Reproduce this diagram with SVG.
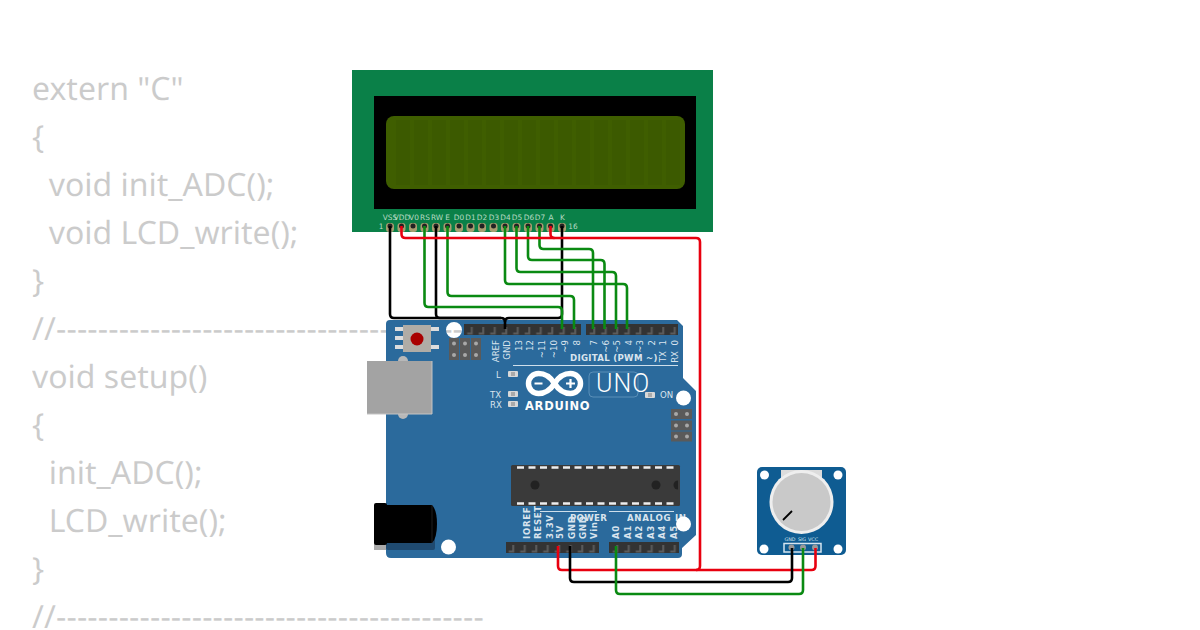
<svg xmlns="http://www.w3.org/2000/svg" width="1200" height="630" viewBox="0 0 1200 630">
<style>
.code{font-family:"Noto Sans","Open Sans",sans-serif;font-size:32px;fill:#000;text-rendering:geometricPrecision}
.w{fill:none;stroke-width:2.6;stroke-linejoin:round}
.r{stroke:#e8000f}.k{stroke:#000}.g{stroke:#0a8a12}
.l{font-family:"DejaVu Sans",sans-serif;font-size:8.6px;fill:#dbe6ef;opacity:.99}
.b{font-weight:bold;letter-spacing:.7px}
.d{font-weight:bold;letter-spacing:.3px}
.lcd{font-family:"DejaVu Sans",sans-serif;font-size:7.4px;fill:#b9dcc6;text-anchor:middle;opacity:.99}
.hdr{fill:#333}
.pad{fill:#a89e70}.dot{fill:#222}
.ls{fill:#d8d8d8}
.ic{fill:#5a5a5a}.icd{fill:#a8a8a8}
.line{stroke:#cfdfeb;stroke-width:1;fill:none}
.hole{fill:#fff}
.chipd{stroke:#eee;stroke-width:2.4;stroke-dasharray:7 4.5;fill:none}
</style>
<defs>
<pattern id="p1" patternUnits="userSpaceOnUse" width="11.5" height="11" patternTransform="translate(568.25 324)"><path d="M2.5 8.5h3.5V3h2v7.5H2.500z" fill="#5c5c5c"/></pattern>
<pattern id="p2" href="#p1" patternTransform="translate(587.25 324)"/>
<pattern id="p3" href="#p1" patternTransform="translate(552.25 542)"/>
<pattern id="p4" href="#p1" patternTransform="translate(610.25 542)"/>
</defs>
<rect width="1200" height="630" fill="#fff"/>
<g id="code" opacity=".2">
<text class="code" x="32" y="100">extern "C"</text>
<text class="code" x="32" y="148">{</text>
<text class="code" x="32" y="196" xml:space="preserve">  void init_ADC();</text>
<text class="code" x="32" y="244" xml:space="preserve">  void LCD_write();</text>
<text class="code" x="32" y="292">}</text>
<text class="code" x="32" y="340" letter-spacing=".13">//-----------------------------------------</text>
<text class="code" x="32" y="388">void setup()</text>
<text class="code" x="32" y="436">{</text>
<text class="code" x="32" y="484" xml:space="preserve">  init_ADC();</text>
<text class="code" x="32" y="532" xml:space="preserve">  LCD_write();</text>
<text class="code" x="32" y="580">}</text>
<text class="code" x="32" y="628" letter-spacing=".13">//-----------------------------------------</text>
</g>
<g id="lcd">
<rect x="352" y="70" width="361" height="162" fill="#0a8048"/>
<rect x="374" y="96" width="322" height="113" fill="#000"/>
<rect x="386" y="116" width="299" height="73" rx="8" fill="#3f5e00"/>
<g fill="#3c5a00"><rect x="396" y="120" width="14" height="65"/><rect x="414" y="120" width="14" height="65"/><rect x="432" y="120" width="14" height="65"/><rect x="450" y="120" width="14" height="65"/><rect x="468" y="120" width="14" height="65"/><rect x="486" y="120" width="14" height="65"/><rect x="504" y="120" width="14" height="65"/><rect x="522" y="120" width="14" height="65"/><rect x="540" y="120" width="14" height="65"/><rect x="558" y="120" width="14" height="65"/><rect x="576" y="120" width="14" height="65"/><rect x="594" y="120" width="14" height="65"/><rect x="612" y="120" width="14" height="65"/><rect x="630" y="120" width="14" height="65"/><rect x="648" y="120" width="14" height="65"/><rect x="666" y="120" width="14" height="65"/></g>
<g class="pad"><rect x="386" y="223" width="8" height="9" rx="3"/><rect x="397.500" y="223" width="8" height="9" rx="3"/><rect x="409" y="223" width="8" height="9" rx="3"/><rect x="420.500" y="223" width="8" height="9" rx="3"/><rect x="432" y="223" width="8" height="9" rx="3"/><rect x="443.500" y="223" width="8" height="9" rx="3"/><rect x="455" y="223" width="8" height="9" rx="3"/><rect x="466.500" y="223" width="8" height="9" rx="3"/><rect x="478" y="223" width="8" height="9" rx="3"/><rect x="489.500" y="223" width="8" height="9" rx="3"/><rect x="501" y="223" width="8" height="9" rx="3"/><rect x="512.500" y="223" width="8" height="9" rx="3"/><rect x="524" y="223" width="8" height="9" rx="3"/><rect x="535.500" y="223" width="8" height="9" rx="3"/><rect x="546.500" y="223" width="8" height="9" rx="3"/><rect x="558" y="223" width="8" height="9" rx="3"/></g>
<g class="dot"><circle cx="390" cy="226" r="2.500"/><circle cx="401.500" cy="226" r="2.500"/><circle cx="413" cy="226" r="2.500"/><circle cx="424.500" cy="226" r="2.500"/><circle cx="436" cy="226" r="2.500"/><circle cx="447.500" cy="226" r="2.500"/><circle cx="459" cy="226" r="2.500"/><circle cx="470.500" cy="226" r="2.500"/><circle cx="482" cy="226" r="2.500"/><circle cx="493.500" cy="226" r="2.500"/><circle cx="505" cy="226" r="2.500"/><circle cx="516.500" cy="226" r="2.500"/><circle cx="528" cy="226" r="2.500"/><circle cx="539.500" cy="226" r="2.500"/><circle cx="550.500" cy="226" r="2.500"/><circle cx="562" cy="226" r="2.500"/></g>
<g class="lcd"><text x="390" y="220">VSS</text><text x="402" y="220">VDD</text><text x="414" y="220">V0</text><text x="425" y="220">RS</text><text x="437" y="220">RW</text><text x="447.500" y="220">E</text><text x="459" y="220">D0</text><text x="470.500" y="220">D1</text><text x="482" y="220">D2</text><text x="494" y="220">D3</text><text x="505.500" y="220">D4</text><text x="517" y="220">D5</text><text x="529" y="220">D6</text><text x="540" y="220">D7</text><text x="551" y="220">A</text><text x="562.500" y="220">K</text><text x="381" y="229">1</text><text x="573" y="229">16</text></g>
</g>
<g id="arduino">
<path fill-rule="evenodd" fill="#2b6a9c" d="M390 320H677L683 326V378L696 391V535L682 548V554Q682 558 678 558H391Q386 558 386 553V324Q386 320 390 320ZM462 330A8 8 0 1 0 446 330A8 8 0 1 0 462 330Z"/>
<g fill="#ddd"><rect x="395" y="327" width="8" height="4"/><rect x="395" y="336" width="8" height="4"/><rect x="395" y="345" width="8" height="4"/><rect x="431" y="327" width="8" height="4"/><rect x="431" y="345" width="8" height="4"/></g>
<rect x="403" y="325" width="28" height="27" fill="#b0aca6"/>
<circle cx="417" cy="339" r="6.500" fill="#a90000"/>
<circle cx="403" cy="361" r="5" fill="#b8b8b8"/><circle cx="403" cy="414" r="5" fill="#b8b8b8"/>
<rect x="367" y="361" width="65" height="53" fill="#a3a3a3"/>
<path d="M432 361V414H367" fill="none" stroke="#c4c4c4" stroke-width="1"/>
<rect x="386" y="510" width="49" height="40" rx="2" fill="#1f4a70"/>
<rect x="374" y="510" width="12" height="40" fill="#aaa"/>
<rect x="374" y="503" width="13" height="42" rx="2" fill="#000"/>
<path d="M386 505H432Q437 510 437 524Q437 538 432 543H386Z" fill="#000"/>
<path d="M432 505V543" stroke="#333" stroke-width=".6"/>
<rect class="ic" x="449" y="338" width="10" height="22"/><rect class="ic" x="460" y="338" width="10" height="22"/><rect class="ic" x="471" y="338" width="10" height="22"/>
<g class="icd"><circle cx="454" cy="343.500" r="2"/><circle cx="465" cy="343.500" r="2"/><circle cx="476" cy="343.500" r="2"/><circle cx="454" cy="355" r="2"/><circle cx="465" cy="355" r="2"/><circle cx="476" cy="355" r="2"/></g>
<rect class="ic" x="671" y="409" width="21" height="10"/><rect class="ic" x="671" y="420.500" width="21" height="10"/><rect class="ic" x="671" y="431.500" width="21" height="10"/>
<g class="icd"><circle cx="676" cy="414" r="2"/><circle cx="687" cy="414" r="2"/><circle cx="676" cy="425.500" r="2"/><circle cx="687" cy="425.500" r="2"/><circle cx="676" cy="436.500" r="2"/><circle cx="687" cy="436.500" r="2"/></g>
<rect class="hdr" x="464" y="324" width="117" height="11"/><rect x="464" y="324" width="117" height="11" fill="url(#p1)"/>
<rect class="hdr" x="586" y="324" width="92" height="11"/><rect x="586" y="324" width="92" height="11" fill="url(#p2)"/>
<rect class="hdr" x="506" y="542" width="93" height="11"/><rect x="506" y="542" width="93" height="11" fill="url(#p3)"/>
<rect class="hdr" x="609" y="542" width="70" height="11"/><rect x="609" y="542" width="70" height="11" fill="url(#p4)"/>
<rect x="511" y="465" width="169" height="41" rx="1.500" fill="#3a3a3a"/>
<path class="chipd" d="M517 467.500H676M517 503.500H676"/>
<circle cx="535" cy="485" r="4.500" fill="#222"/><circle cx="656" cy="485" r="4.500" fill="#222"/><path d="M678 480.500a4.500 4.500 0 0 0 0 9z" fill="#222"/>
<g class="l" text-anchor="end">
<text transform="translate(499 340) rotate(-90)" text-anchor="end">AREF</text>
<text transform="translate(510 340) rotate(-90)" text-anchor="end">GND</text>
<text transform="translate(522 340) rotate(-90)" text-anchor="end">13</text>
<text transform="translate(533 340) rotate(-90)" text-anchor="end">12</text>
<text transform="translate(545 340) rotate(-90)" text-anchor="end">~11</text>
<text transform="translate(556.500 340) rotate(-90)" text-anchor="end">~10</text>
<text transform="translate(568 340) rotate(-90)" text-anchor="end">~9</text>
<text transform="translate(579.500 340) rotate(-90)" text-anchor="end">8</text>
<text transform="translate(597 340) rotate(-90)" text-anchor="end">7</text>
<text transform="translate(608.500 340) rotate(-90)" text-anchor="end">~6</text>
<text transform="translate(620 340) rotate(-90)" text-anchor="end">~5</text>
<text transform="translate(631.500 340) rotate(-90)" text-anchor="end">4</text>
<text transform="translate(643 340) rotate(-90)" text-anchor="end">~3</text>
<text transform="translate(654.500 340) rotate(-90)" text-anchor="end">2</text>
<text transform="translate(666 340) rotate(-90)" text-anchor="end">1</text>
<text transform="translate(677.500 340) rotate(-90)" text-anchor="end">0</text>
<text transform="translate(666 351) rotate(-90)" text-anchor="end">TX</text>
<text transform="translate(677.500 351) rotate(-90)" text-anchor="end">RX</text>
</g>
<text class="l d" x="570" y="361">DIGITAL (PWM ~)</text>
<path class="line" d="M513 365.500H678M540 511.500H597M609 511.500H674"/>
<g class="l"><text x="496" y="378">L</text><text x="490" y="398">TX</text><text x="490" y="408">RX</text><text x="660" y="398">ON</text></g>
<g class="ls"><rect x="508" y="371" width="10" height="6" rx="1"/><rect x="508" y="391" width="10" height="6" rx="1"/><rect x="508" y="401" width="10" height="6" rx="1"/><rect x="645" y="392" width="10" height="6" rx="1"/></g>
<g fill="#aaa"><rect x="511" y="372" width="4" height="4"/><rect x="511" y="392" width="4" height="4"/><rect x="511" y="402" width="4" height="4"/><rect x="648" y="393" width="4" height="4"/></g>
<g id="logo"><path d="M554.500 383.500C549 375 544 373.500 538.500 373.500A10 10 0 0 0 538.500 393.500C544 393.500 549 392 554.500 383.500C560 375 565 373.500 570.500 373.500A10 10 0 0 1 570.500 393.500C565 393.500 560 392 554.500 383.500Z" fill="none" stroke="#fff" stroke-width="5.500"/><path d="M534.500 383.500h8M566 383.500h9M570.500 379v9" stroke="#fff" stroke-width="2.200" fill="none"/></g>
<text x="525" y="410" font-family="'DejaVu Sans',sans-serif" font-weight="bold" font-size="11.500" fill="#fff" letter-spacing=".7" opacity=".99">ARDUINO</text>
<rect x="589" y="372" width="49" height="25" rx="4" fill="none" stroke="#5a8fb8" stroke-width="1"/>
<text x="596" y="392" font-family="Roboto,sans-serif" font-weight="300" font-size="25" letter-spacing="1" fill="#fff" opacity=".99">UNO</text>
<g class="l b" text-anchor="start">
<text transform="translate(529.500 539) rotate(-90)">IOREF</text>
<text transform="translate(541 539) rotate(-90)">RESET</text>
<text transform="translate(552.500 539) rotate(-90)">3.3V</text>
<text transform="translate(563 539) rotate(-90)">5V</text>
<text transform="translate(574.500 539) rotate(-90)">GND</text>
<text transform="translate(586 539) rotate(-90)">GND</text>
<text transform="translate(597 539) rotate(-90)">Vin</text>
<text transform="translate(619 539) rotate(-90)">A0</text>
<text transform="translate(630.500 539) rotate(-90)">A1</text>
<text transform="translate(642 539) rotate(-90)">A2</text>
<text transform="translate(653.500 539) rotate(-90)">A3</text>
<text transform="translate(665 539) rotate(-90)">A4</text>
<text transform="translate(676.500 539) rotate(-90)">A5</text>
</g>
<text class="l d" x="570" y="521">POWER</text>
<text class="l b" x="627" y="521">ANALOG IN</text>
<circle class="hole" cx="683.500" cy="398" r="7.500"/><circle class="hole" cx="683.500" cy="524" r="7.500"/><circle class="hole" cx="448.500" cy="547" r="7.500"/>
</g>
<g id="potentiometer">
<rect x="757" y="467" width="89" height="88" rx="5" fill="#0f5c92"/>
<circle class="hole" cx="764.500" cy="475" r="4.500"/><circle class="hole" cx="838" cy="475" r="4.500"/><circle class="hole" cx="764" cy="549" r="4.500"/><circle class="hole" cx="838" cy="549" r="4.500"/>
<rect x="781" y="470" width="41" height="20" fill="#dcdcdc"/>
<circle cx="801.500" cy="502" r="32" fill="#eee"/><circle cx="801.500" cy="502" r="29" fill="#c9c9c9"/>
<path d="M783 520L792 511" stroke="#000" stroke-width="1.800"/>
<g font-family="'DejaVu Sans',sans-serif" font-size="4.800" fill="#dfe9f1" text-anchor="middle" opacity=".99"><text x="790" y="541">GND</text><text x="802" y="541">SIG</text><text x="813" y="541">VCC</text></g>
<rect x="784" y="543.500" width="37" height="8.500" fill="none" stroke="#d5e4ef" stroke-width="1.500"/>
<g fill="#999"><circle cx="791.500" cy="547.500" r="3"/><circle cx="803" cy="547.500" r="3"/><circle cx="815" cy="547.500" r="3"/></g>
</g>
<g id="connectors">
<path class="w k" d="M390 226V314Q390 318 394 318H501Q505 318 505 322V329"/>
<path class="w k" d="M436 226V314Q436 318 440 318H501"/>
<path class="w k" d="M562 226V314Q562 318 558 318H509Q505 318 505 322"/>
<path class="w g" d="M424.500 226V303Q424.500 307 428.500 307H558Q562 307 562 311V329"/>
<path class="w g" d="M447.500 226V292Q447.500 296 451.500 296H570Q574 296 574 300V329"/>
<path class="w g" d="M505 226V280Q505 284 509 284H623Q627 284 627 288V329"/>
<path class="w g" d="M516.500 226V268Q516.500 272 520.500 272H612Q616 272 616 276V329"/>
<path class="w g" d="M528 226V256Q528 260 532 260H600.500Q604.500 260 604.500 264V329"/>
<path class="w g" d="M539.500 226V245Q539.500 249 543.500 249H589Q593 249 593 253V329"/>
<path class="w r" d="M401.500 226V234Q401.500 238 405.500 238H696Q700 238 700 242V566Q700 570 696 570"/>
<path class="w r" d="M550.500 226V234Q550.500 238 554.500 238"/>
<path class="w r" d="M558 546V566Q558 570 562 570H811.500Q815.500 570 815.500 566V548"/>
<path class="w k" d="M570 546V578Q570 582 574 582H788Q792 582 792 578V548"/>
<path class="w g" d="M616 546V590Q616 594 620 594H799Q803 594 803 590V548"/>
</g>
</svg>
